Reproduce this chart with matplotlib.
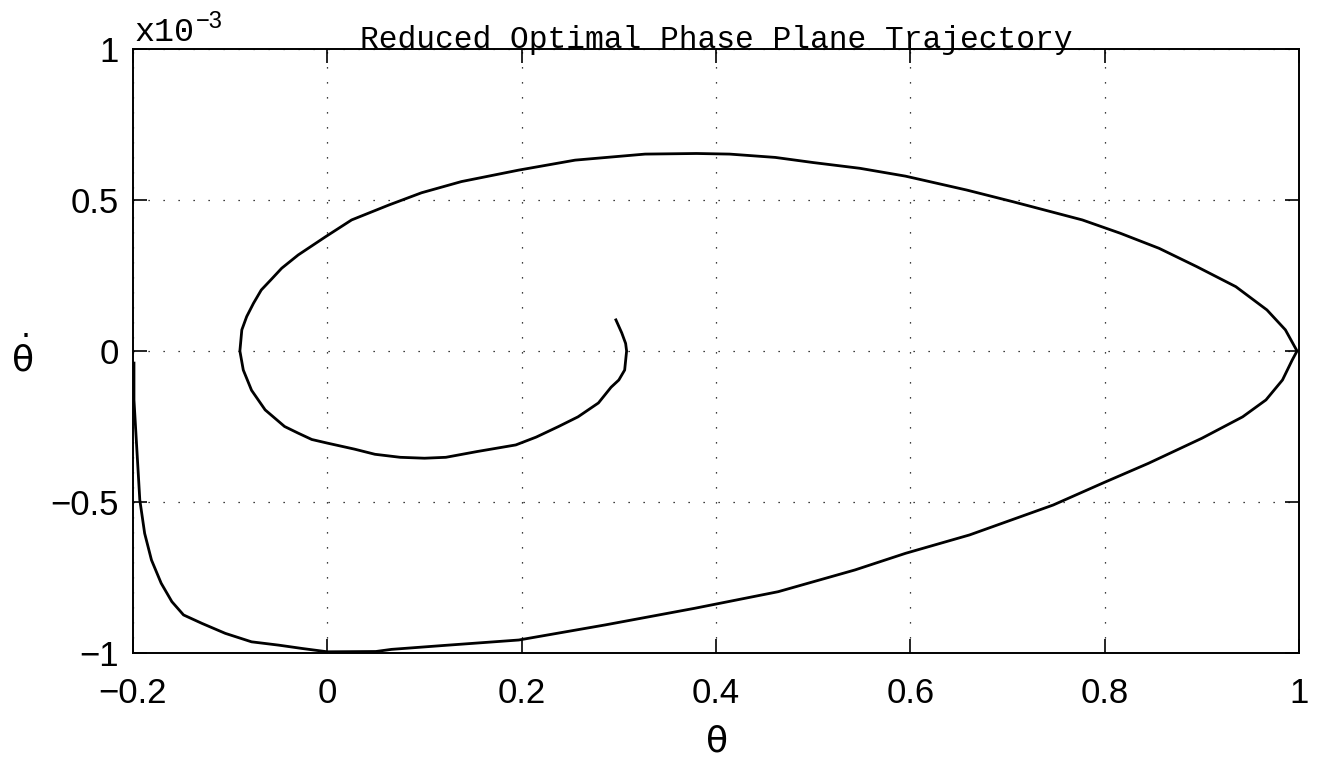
import matplotlib
matplotlib.use("Agg")
import matplotlib.pyplot as plt

# Trajectory data (theta, theta_dot in units of 1e-3)
theta = [0.297, 0.303, 0.307, 0.308, 0.306, 0.300, 0.292, 0.279, 0.258, 0.238,
         0.215, 0.194, 0.154, 0.122, 0.100, 0.075, 0.049, 0.028, 0.000, -0.016,
         -0.030, -0.044, -0.064, -0.078, -0.0865, -0.090,
         -0.088, -0.083, -0.076, -0.068, -0.058, -0.047, -0.030, -0.002, 0.025,
         0.063, 0.097, 0.138, 0.197, 0.255, 0.327, 0.380, 0.414, 0.461, 0.500,
         0.548, 0.595, 0.658, 0.706, 0.777, 0.816, 0.856, 0.895, 0.935, 0.967,
         0.986, 0.998,
         0.993, 0.983, 0.966, 0.942, 0.900, 0.845, 0.799, 0.747, 0.661, 0.595,
         0.543, 0.464, 0.378, 0.286, 0.197, 0.120, 0.066, 0.050, 0.000, -0.026,
         -0.050, -0.078, -0.105, -0.129, -0.148, -0.160, -0.171, -0.181, -0.188,
         -0.193, -0.196, -0.199, -0.199]
theta_dot = [0.103, 0.060, 0.025, 0.000, -0.063, -0.096, -0.120, -0.172, -0.218, -0.250,
             -0.285, -0.311, -0.333, -0.352, -0.355, -0.352, -0.342, -0.325, -0.305, -0.293,
             -0.272, -0.250, -0.195, -0.130, -0.063, 0.000,
             0.070, 0.114, 0.158, 0.202, 0.236, 0.274, 0.318, 0.378, 0.434,
             0.483, 0.524, 0.561, 0.599, 0.632, 0.652, 0.654, 0.652, 0.641, 0.624,
             0.605, 0.579, 0.533, 0.494, 0.434, 0.390, 0.340, 0.279, 0.213, 0.136,
             0.070, 0.000,
             -0.030, -0.096, -0.162, -0.218, -0.289, -0.372, -0.436, -0.510, -0.609, -0.670,
             -0.725, -0.797, -0.852, -0.907, -0.957, -0.975, -0.988, -0.995, -0.996, -0.985,
             -0.974, -0.963, -0.935, -0.902, -0.874, -0.830, -0.769, -0.692, -0.604,
             -0.493, -0.328, -0.162, -0.040]

xticks = [-0.2, 0, 0.2, 0.4, 0.6, 0.8, 1]
xtick_labels = ["\u22120.2", "0", "0.2", "0.4", "0.6", "0.8", "1"]
yticks = [-1, -0.5, 0, 0.5, 1]
ytick_labels = ["\u22121", "\u22120.5", "0", "0.5", "1"]

plt.rcParams["mathtext.default"] = "regular"

W, H = 1319, 763
fig = plt.figure(figsize=(W / 100, H / 100), dpi=100)
L, R, T, B = 133, 1299, 49, 653
ax = fig.add_axes([L / W, 1 - B / H, (R - L) / W, (B - T) / H])

ax.plot(theta, theta_dot, color="black", lw=2.0, solid_joinstyle="round")

ax.set_xlim(-0.2, 1)
ax.set_ylim(-1, 1)
ax.set_xticks(xticks)
ax.set_xticklabels(xtick_labels)
ax.set_yticks(yticks)
ax.set_yticklabels(ytick_labels)

for lab in ax.get_xticklabels() + ax.get_yticklabels():
    lab.set_fontfamily("Liberation Sans")
    lab.set_fontsize(25)

ax.tick_params(direction="in", length=10, width=1.2, top=True, right=True,
               color="black")
ax.tick_params(axis="x", pad=17)
ax.tick_params(axis="y", pad=10)

ax.grid(True, color="black", lw=0.9, linestyle=(0, (1, 11)))
for s in ax.spines.values():
    s.set_linewidth(1.4)
    s.set_color("black")

ax.set_title("Reduced Optimal Phase Plane Trajectory",
             fontfamily="Liberation Mono", fontsize=22.5, pad=1)

ax.set_xlabel(r"$\theta$", fontsize=26, va="center")
ax.xaxis.set_label_coords(0.5, (B - 742) / (B - T))
ax.set_ylabel(r"$\dot{\theta}$", fontsize=26, rotation=0, va="center", ha="center")
ax.yaxis.set_label_coords((22 - L) / (R - L), 0.49)

fig.text(134 / W, 1 - 41 / H, "x10", family="Liberation Mono", fontsize=24,
         va="baseline", ha="left")
fig.text(196 / W, 1 - 28 / H, "\u22123", family="Liberation Sans", fontsize=17,
         va="baseline", ha="left")

fig.savefig("out.png", dpi=100)
